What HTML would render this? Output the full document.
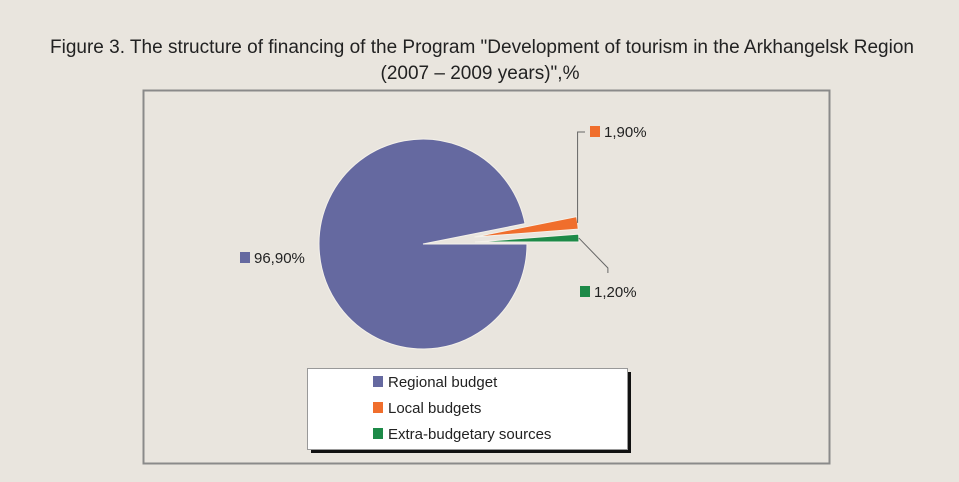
<!DOCTYPE html>
<html><head><meta charset="utf-8"><style>
body{margin:0;width:959px;height:477px;background:#e9e5de;font-family:"Liberation Sans",sans-serif;overflow:hidden}
</style></head><body>
<svg width="959" height="477">
<text x="482" y="53" text-anchor="middle" font-size="19" fill="#222">Figure 3. The structure of financing of the Program "Development of tourism in the Arkhangelsk Region</text>
<text x="480" y="79" text-anchor="middle" font-size="19" fill="#222">(2007 – 2009 years)",%</text>
<rect x="143.5" y="90.5" width="686" height="373" fill="#e9e5de" stroke="#8a8a8a" stroke-width="2"/>
<g id="pie"></g>
<g id="labels" font-size="15" fill="#222"></g>
<rect x="311" y="372" width="320" height="81" fill="#111"/>
<rect x="307.5" y="368.5" width="320" height="81" fill="#fff" stroke="#999"/>
<g id="legend" font-size="15" fill="#222"></g>
</svg>
<script>
const categories=["Regional budget","Local budgets","Extra-budgetary sources"];
const values=[96.9,1.9,1.2];
const valueLabels=["96,90%","1,90%","1,20%"];
const colors=["#6569a0","#f06e2c","#1d8a48"];
const NS="http://www.w3.org/2000/svg";
const cx=423,cy=244,rx=104,ry=105,explode=[0,52,52];
const total=values.reduce((a,b)=>a+b,0);
const pie=document.getElementById('pie');
let ang=0;
const mids=[];
values.forEach((v,i)=>{
  const a0=ang,a1=ang+v/total*2*Math.PI;ang=a1;
  const m=(a0+a1)/2;mids.push(m);
  const ox=Math.cos(m)*explode[i],oy=Math.sin(m)*explode[i];
  const x0=cx+ox+rx*Math.cos(a0),y0=cy+oy+ry*Math.sin(a0);
  const x1=cx+ox+rx*Math.cos(a1),y1=cy+oy+ry*Math.sin(a1);
  const large=(a1-a0)>Math.PI?1:0;
  const p=document.createElementNS(NS,'path');
  p.setAttribute('d',`M${cx+ox},${cy+oy} L${x0},${y0} A${rx},${ry} 0 ${large} 1 ${x1},${y1} Z`);
  p.setAttribute('fill',colors[i]);p.setAttribute('stroke','#f4f1ea');p.setAttribute('stroke-width','1');
  
  
  pie.appendChild(p);
});
const lab=document.getElementById('labels');
function add(tag,attrs,parent,text){const e=document.createElementNS(NS,tag);for(const k in attrs)e.setAttribute(k,attrs[k]);if(text)e.textContent=text;parent.appendChild(e);return e;}
// label positions (layout)
const lpos=[[240,252],[590,126],[580,286]];
values.forEach((v,i)=>{
  const r=add('rect',{x:lpos[i][0],y:lpos[i][1],width:10,height:11,fill:colors[i]},lab);
  
  
  const t=add('text',{x:lpos[i][0]+14,y:lpos[i][1]+11},lab,valueLabels[i]);
  
  
});
// leader lines
const ex1=cx+Math.cos(mids[1])*explode[1]+rx*Math.cos(mids[1]),ey1=cy+Math.sin(mids[1])*explode[1]+ry*Math.sin(mids[1]);
const l1=add('polyline',{points:`${ex1},${ey1} ${ex1},132 ${lpos[1][0]-5},132`,fill:'none',stroke:'#666'},lab);


const ex2=cx+Math.cos(mids[2])*explode[2]+rx*Math.cos(mids[2]),ey2=cy+Math.sin(mids[2])*explode[2]+ry*Math.sin(mids[2]);
const l2=add('polyline',{points:`${ex2},${ey2} ${ex2+29},268 ${ex2+29},273`,fill:'none',stroke:'#666'},lab);


const lg=document.getElementById('legend');
categories.forEach((c,i)=>{
  const y=376+i*26;
  const r=add('rect',{x:373,y:y,width:10,height:11,fill:colors[i]},lg);
  
  
  const t=add('text',{x:388,y:y+11},lg,c);
  
  
});
</script>
</body></html>
